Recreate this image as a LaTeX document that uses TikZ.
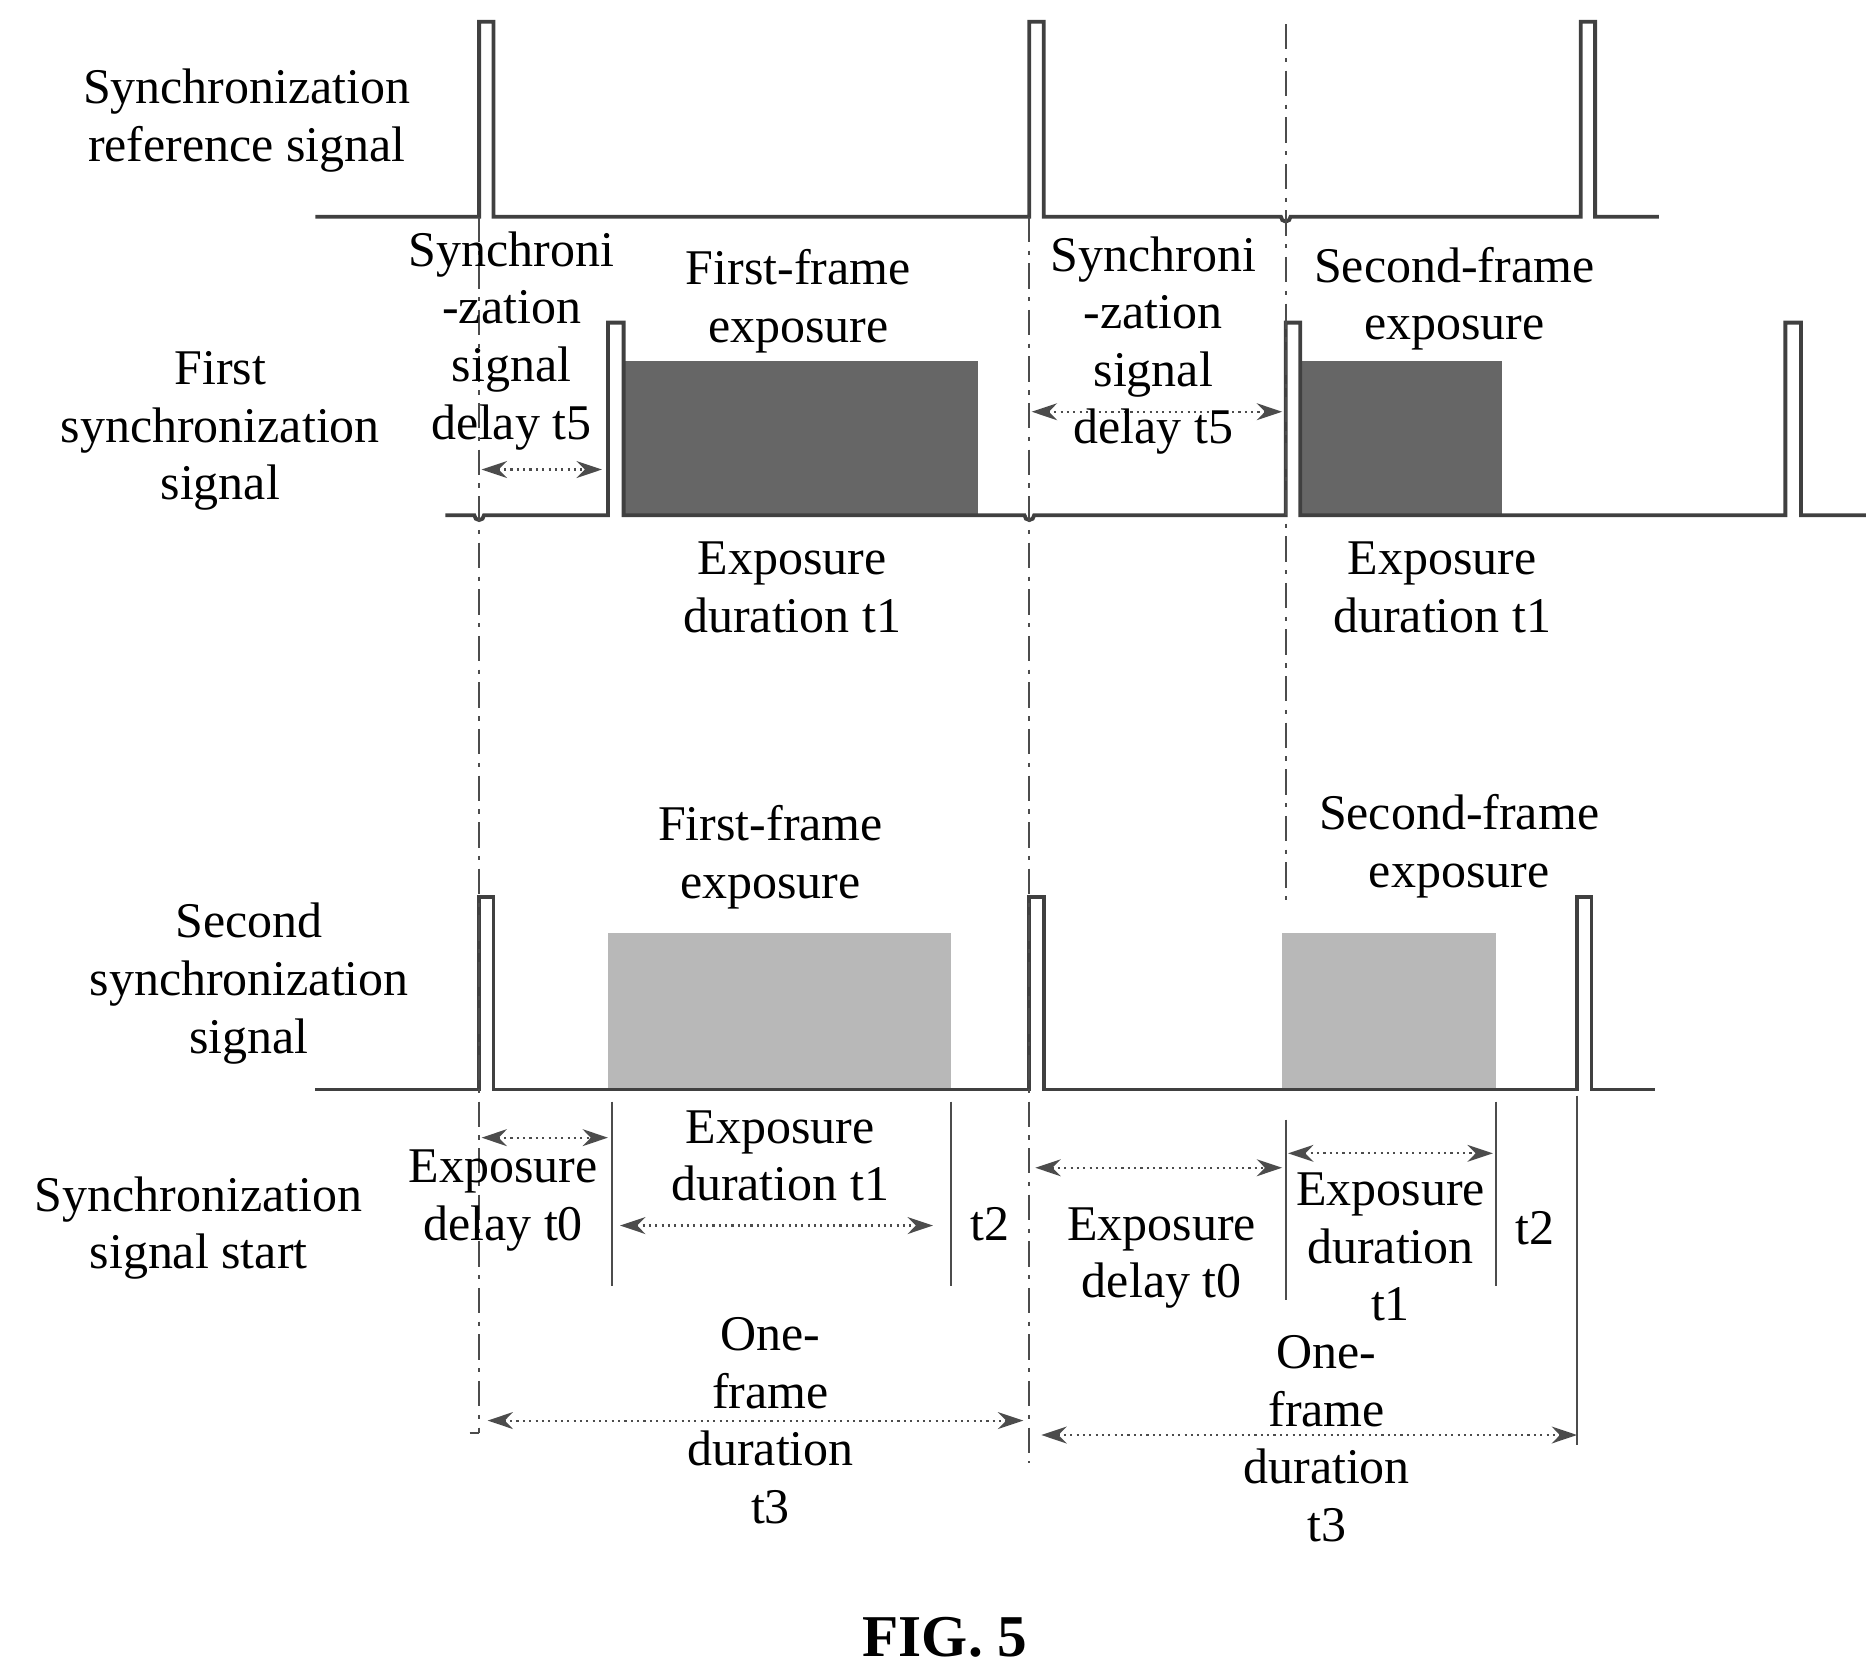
\documentclass[tikz,border=0pt]{standalone}
\usepackage{fontspec}
\setmainfont{Liberation Serif}
\usetikzlibrary{arrows.meta,patterns}
\begin{document}
\begin{tikzpicture}[x=0.01cm,y=-0.01cm,
 sig/.style={line width=0.9pt,black!75},
 vd/.style={line width=0.5pt,black!70,dash pattern=on 6pt off 2pt on 1pt off 2pt},
 tk/.style={line width=0.5pt,black!70},
 dim/.style={line width=0.5pt,black!70,densely dotted,{Stealth[length=6pt,width=4pt]}-{Stealth[length=6pt,width=4pt]}},
 lbl/.style={align=center,font=\fontsize{11.8}{13.6}\selectfont,inner sep=0pt},
 dark/.style={fill=black!60},
 light/.style={fill=black!28}]
\useasboundingbox (0,0) rectangle (1550,1390);
% reference signal
\draw[sig] (262,180) -- (398,180) -- (398,18) -- (410,18) -- (410,180) -- (855,180) -- (855,18) -- (867,18) -- (867,180)
  -- (1064,180) arc (180:0:4) -- (1313,180) -- (1313,18) -- (1325,18) -- (1325,180) -- (1378,180);
% first sync signal
\fill[dark] (518,300) rectangle (812,428);
\fill[dark] (1080,300) rectangle (1248,428);
\draw[sig] (370,428) -- (394,428) arc (180:0:4) -- (505,428) -- (505,268) -- (518,268) -- (518,428) -- (851,428) arc (180:0:4)
  -- (1068,428) -- (1068,268) -- (1080,268) -- (1080,428) -- (1483,428) -- (1483,268) -- (1496,268) -- (1496,428) -- (1550,428);
% second sync signal
\fill[light] (505,775) rectangle (790,905);
\fill[light] (1065,775) rectangle (1243,905);
\draw[sig] (262,905) -- (398,905) -- (398,745) -- (410,745) -- (410,905) -- (855,905) -- (855,745) -- (867,745) -- (867,905)
  -- (1310,905) -- (1310,745) -- (1322,745) -- (1322,905) -- (1375,905);
% vertical guides
\coordinate (v1a) at (398,180); \coordinate (v1b) at (398,1190);
\coordinate (v2a) at (855,180); \coordinate (v2b) at (855,1215);
\coordinate (v3a) at (1068,20); \coordinate (v3b) at (1068,750);
\coordinate (v3c) at (1068,930); \coordinate (v3d) at (1068,1080);
\draw[vd] (v1a) -- (v1b); \draw[tk] (390,1190) -- (v1b);
\draw[vd] (v2a) -- (v2b);
\draw[vd] (v3a) -- (v3b);
\draw[tk] (v3c) -- (v3d);
\coordinate (k1a) at (508,915); \coordinate (k1b) at (508,1068); \draw[tk] (k1a) -- (k1b);
\coordinate (k2a) at (790,915); \coordinate (k2b) at (790,1068); \draw[tk] (k2a) -- (k2b);
\coordinate (k3a) at (1243,915); \coordinate (k3b) at (1243,1068); \draw[tk] (k3a) -- (k3b);
\coordinate (k4a) at (1310,910); \coordinate (k4b) at (1310,1200); \draw[tk] (k4a) -- (k4b);
% dimension arrows
\coordinate (a1) at (400,390); \coordinate (b1) at (500,390); \draw[dim] (a1) -- (b1);
\coordinate (a2) at (857,342); \coordinate (b2) at (1065,342); \draw[dim] (a2) -- (b2);
\coordinate (a3) at (400,945); \coordinate (b3) at (505,945); \draw[dim] (a3) -- (b3);
\coordinate (a4) at (515,1018); \coordinate (b4) at (775,1018); \draw[dim] (a4) -- (b4);
\coordinate (a5) at (860,970); \coordinate (b5) at (1065,970); \draw[dim] (a5) -- (b5);
\coordinate (a6) at (1070,958); \coordinate (b6) at (1240,958); \draw[dim] (a6) -- (b6);
\coordinate (a7) at (405,1180); \coordinate (b7) at (850,1180); \draw[dim] (a7) -- (b7);
\coordinate (a8) at (865,1192); \coordinate (b8) at (1310,1192); \draw[dim] (a8) -- (b8);
% labels
\node[lbl] (l1) at (205,100) {Synchronization\\reference signal};
\node[lbl] (l2) at (425,283) {Synchroni\\-zation\\signal\\delay t5};
\node[lbl] (l3) at (663,250) {First-frame\\exposure};
\node[lbl] (l4) at (183,358) {First\\synchronization\\signal};
\node[lbl] (l5) at (958,287) {Synchroni\\-zation\\signal\\delay t5};
\node[lbl] (l6) at (1208,248) {Second-frame\\exposure};
\node[lbl] (l7) at (658,488) {Exposure\\duration t1};
\node[lbl] (l8) at (1198,488) {Exposure\\duration t1};
\node[lbl] (l9) at (640,712) {First-frame\\exposure};
\node[lbl] (l10) at (1212,703) {Second-frame\\exposure};
\node[lbl] (l11) at (207,817) {Second\\synchronization\\signal};
\node[lbl] (l12) at (165,1020) {Synchronization\\signal start};
\node[lbl] (l13) at (418,997) {Exposure\\delay t0};
\node[lbl] (l14) at (648,960) {Exposure\\duration t1};
\node[lbl] (l15) at (822,1017) {t2};
\node[lbl] (l16) at (965,1045) {Exposure\\delay t0};
\node[lbl] (l17) at (1155,1036) {Exposure\\duration\\t1};
\node[lbl] (l18) at (1275,1020) {t2};
\node[lbl] (l19) at (640,1180) {One-\\frame\\duration\\t3};
\node[lbl] (l20) at (1102,1195) {One-\\frame\\duration\\t3};
\node[lbl,font=\fontsize{14}{16}\selectfont\bfseries] (fig) at (785,1360) {FIG. 5};
\end{tikzpicture}
\end{document}
